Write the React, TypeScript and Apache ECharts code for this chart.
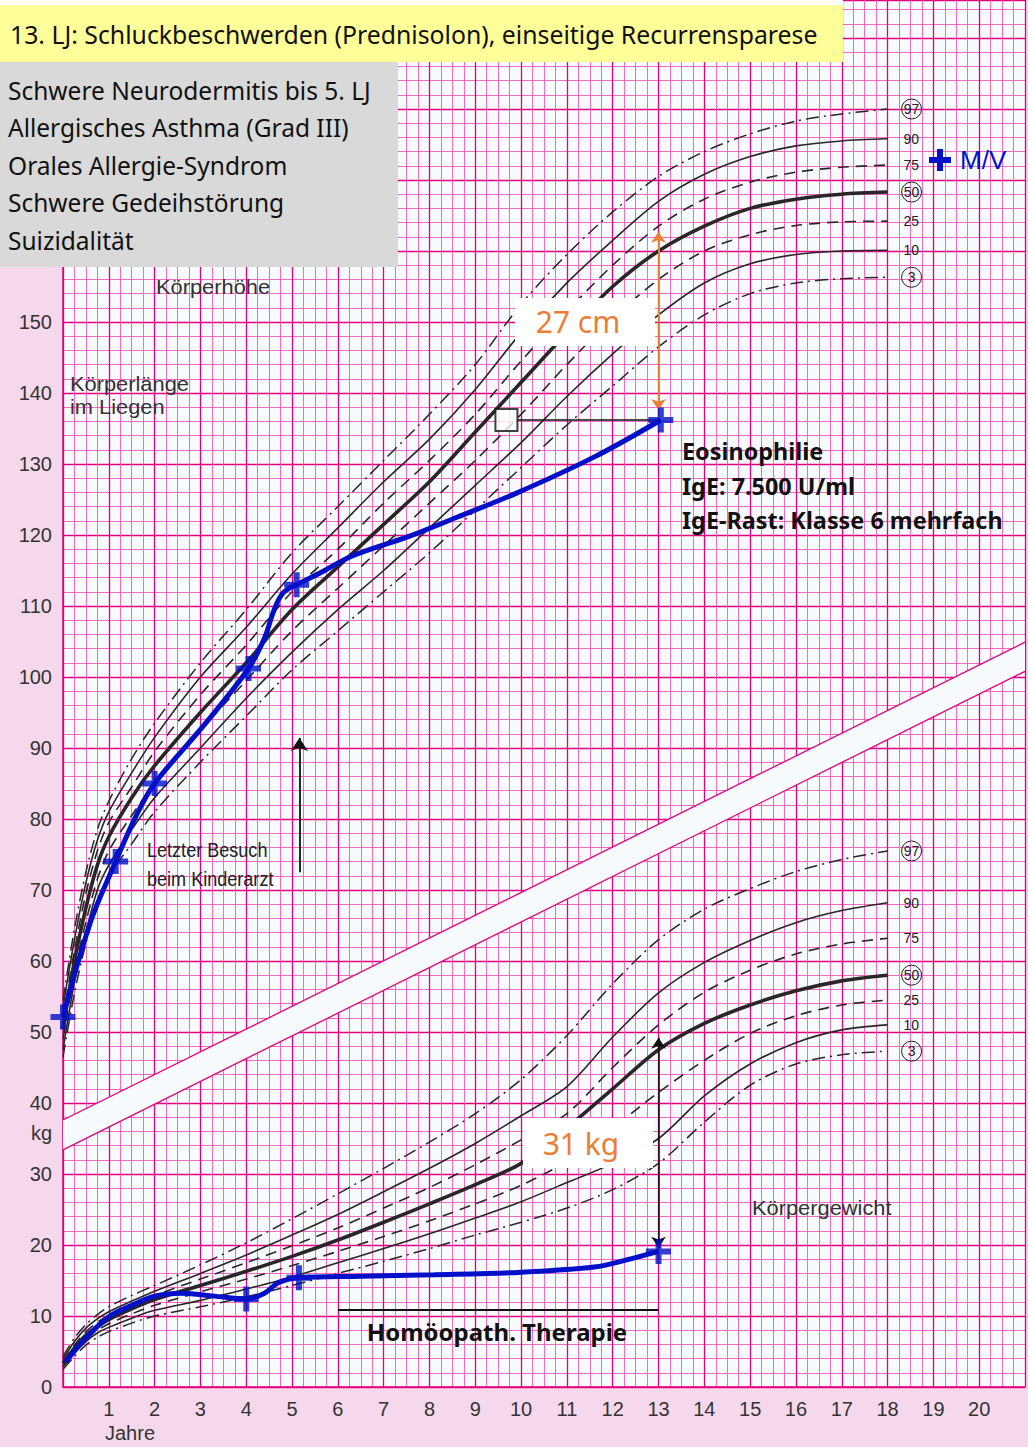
import React, { useEffect, useRef } from 'react';
import * as echarts from 'echarts';

// ---------- data ----------
const AGES = [0, 0.25, 0.5, 0.75, 1, 1.5, 2, 3, 4, 5, 6, 7, 8, 9, 10, 11, 12, 13, 14, 15, 16, 17, 18];

const H_P97 = [54.5, 64.5, 72.5, 78.5, 82.5, 88.5, 93.5, 102, 109.5, 117.5, 124, 130.5, 137, 144, 152.5, 159.5, 165.5, 170.5, 174, 176.5, 178.3, 179.3, 180];
const H_P90 = [53.5, 63, 71, 77, 81, 86.5, 91.5, 100, 107, 114.5, 121, 127.5, 133.5, 140.5, 148.5, 155.5, 161.5, 167, 170.8, 173.3, 174.8, 175.5, 175.8];
const H_P75 = [52, 61.5, 69.5, 75.5, 79.5, 84.5, 89.5, 97.5, 104.5, 112, 118, 124.5, 130.5, 137, 144.5, 151.5, 158, 163.5, 167.3, 169.7, 171.1, 171.8, 172.1];
const H_P50 = [50.5, 60, 67.5, 73.5, 77.5, 83, 87.5, 95, 102, 109.5, 115.5, 121.5, 127.5, 134.5, 141.5, 148.5, 155, 160, 163.5, 166, 167.3, 168, 168.3];
const H_P25 = [49, 58.5, 65.5, 71.5, 75.5, 80.5, 85, 92.5, 99.5, 106.5, 112.5, 118.5, 124.5, 130.5, 137, 144, 150.5, 156, 160, 162.3, 163.6, 164.1, 164.2];
const H_P10 = [47.5, 57, 64, 70, 73.5, 78.5, 83, 90, 97, 103.5, 109.5, 115, 121, 127, 133, 139.5, 145.5, 151, 155.5, 158.2, 159.5, 160, 160.1];
const H_P3 = [46.5, 55.5, 62.5, 68, 72, 76.5, 81, 88, 94.5, 101, 106.5, 112, 117.5, 123.5, 129.5, 135.5, 141, 146.5, 151, 154, 155.5, 156.1, 156.3];

const W_P97 = [4.3, 6.9, 8.8, 10.2, 11.3, 12.9, 14.3, 17.2, 20.3, 23.7, 27.2, 30.8, 34.5, 38.5, 43.3, 49.5, 56.8, 63, 67.3, 70.2, 72.6, 74.3, 75.5];
const W_P90 = [3.9, 6.4, 8.3, 9.6, 10.6, 12.1, 13.5, 16.0, 18.6, 21.4, 24.3, 27.5, 30.8, 34.3, 38.2, 42.3, 49.3, 55.5, 59.8, 62.9, 65.4, 67.1, 68.2];
const W_P75 = [3.6, 5.9, 7.8, 9.1, 10.1, 11.5, 12.9, 15.2, 17.5, 19.9, 22.4, 25.2, 28.1, 31.3, 34.8, 38.5, 45, 51, 55.6, 58.7, 61, 62.4, 63.2];
const W_P50 = [3.3, 5.5, 7.3, 8.5, 9.5, 11, 12.3, 14.3, 16.3, 18.4, 20.7, 23.2, 25.8, 28.5, 31.5, 36.5, 42, 47.5, 51.2, 53.8, 55.8, 57.2, 58];
const W_P25 = [3.0, 5.1, 6.8, 8.0, 8.9, 10.3, 11.5, 13.4, 15.2, 17.1, 19.1, 21.2, 23.4, 25.8, 28.4, 31.8, 36.5, 41.5, 46, 49.8, 52.3, 53.8, 54.5];
const W_P10 = [2.8, 4.8, 6.4, 7.6, 8.4, 9.7, 10.8, 12.2, 13.8, 15.5, 17.5, 19.5, 21.6, 23.8, 26.1, 28.8, 31.5, 35, 41, 45.5, 48.5, 50.3, 51];
const W_P3 = [2.5, 4.3, 5.9, 7.0, 7.8, 9.0, 10.0, 11.3, 12.7, 14.3, 16.0, 17.7, 19.5, 21.4, 23.2, 25.2, 27.8, 31.5, 37.3, 42.5, 45.5, 46.8, 47.3];

const PERCENTILE_NAMES = ['97', '90', '75', '50', '25', '10', '3'];
const HEIGHT_CURVES = [H_P97, H_P90, H_P75, H_P50, H_P25, H_P10, H_P3];
const WEIGHT_CURVES = [W_P97, W_P90, W_P75, W_P50, W_P25, W_P10, W_P3];

const PATIENT_HEIGHT_PATH = [[0, 52.1], [0.6, 65.5], [1.15, 74], [1.6, 80.5], [2.0, 85], [3.05, 93], [4.05, 101.2], [4.4, 105.5], [4.6, 109.3], [4.8, 111.8], [5.1, 113], [5.6, 114.6], [6.3, 117], [7.55, 119.8], [8.6, 122.5], [9.9, 125.9], [11.6, 131], [13.05, 136.2]];
const PATIENT_HEIGHT_VISITS = [[0, 52.1], [1.15, 74], [2.0, 85], [4.05, 101.2], [5.1, 113], [13.05, 136.2]];
const PATIENT_WEIGHT_PATH = [[0.05, 3.5], [0.5, 6.9], [1.0, 9.9], [1.5, 11.5], [2.0, 12.8], [2.6, 13.2], [3.3, 12.8], [4.0, 12.4], [4.4, 13.2], [4.7, 14.7], [5.15, 15.4], [6.5, 15.6], [8.1, 15.8], [9.8, 16.1], [11.6, 16.9], [12.3, 17.9], [13.0, 19.1]];
const PATIENT_WEIGHT_VISITS = [[4.0, 12.4], [5.15, 15.4], [13.0, 19.1]];

const HEIGHT_AGE_MARK = [[9.68, 136.2]];
const BAND_UPPER = [[0, 37.6], [21, 104.9]];
const BAND_LOWER = [[0, 33.4], [21, 100.8]];

const X_LABELS = [1, 2, 3, 4, 5, 6, 7, 8, 9, 10, 11, 12, 13, 14, 15, 16, 17, 18, 19, 20];
const Y_LABELS = [0, 10, 20, 30, 40, 50, 60, 70, 80, 90, 100, 110, 120, 130, 140, 150];
const Y_MAX = 195.35;

const TITLE = '13. LJ: Schluckbeschwerden (Prednisolon), einseitige Recurrensparese';
const DIAGNOSES = ['Schwere Neurodermitis bis 5. LJ', 'Allergisches Asthma (Grad III)', 'Orales Allergie-Syndrom', 'Schwere Gedeihstörung', 'Suizidalität'];
const LAB = ['Eosinophilie', 'IgE: 7.500 U/ml', 'IgE-Rast: Klasse 6 mehrfach'];

// ---------- styles ----------
const BLUE = '#0010c8';
const ORANGE = '#ed7d31';
const CURVE = '#2a2526';
const MAJOR = '#e4007c';
const MINOR = '#f15ab6';
const SANS = 'Liberation Sans, Arial, sans-serif';
const CAL = 'Noto Sans, Open Sans, sans-serif';
const CROSS = 'path://M3.8,0H6.2V3.8H10V6.2H6.2V10H3.8V6.2H0V3.8H3.8Z';

const circled = ['97', '50', '3'];

function lineStyleFor(name: string) {
  if (name === '50') return { color: CURVE, width: 3.6, type: 'solid' as any };
  if (name === '90' || name === '10') return { color: CURVE, width: 1.6, type: 'solid' as any };
  if (name === '75' || name === '25') return { color: CURVE, width: 1.6, type: [11, 7] as any };
  return { color: CURVE, width: 1.5, type: [13, 5, 2, 5] as any };
}

function percentileSeries(curves: number[][], prefix: string) {
  return curves.map((vals, i) => {
    const name = PERCENTILE_NAMES[i];
    const isCircled = circled.includes(name);
    return {
      name: prefix + name,
      type: 'line',
      data: AGES.map((a, j) => [a, vals[j]]),
      smooth: 0.3,
      showSymbol: false,
      symbol: 'none',
      z: 3,
      lineStyle: lineStyleFor(name),
      endLabel: {
        show: true,
        distance: isCircled ? 14 : 16,
        formatter: () => (isCircled ? '{c|' + name + '}' : '{n|' + name + '}'),
        rich: {
          c: {
            fontSize: 14, fontFamily: SANS, color: '#222', width: 20, height: 20, lineHeight: 20,
            align: 'center', borderColor: '#222', borderWidth: 1, borderRadius: 11,
          },
          n: { fontSize: 14, fontFamily: SANS, color: '#222' },
        },
      },
    };
  });
}

function txt(text: string, x: number, y: number, size: number, opts: any = {}) {
  return {
    type: 'text', x, y, z: 100, scaleX: opts.scaleX || 1,
    style: {
      text, fontSize: size, fontFamily: opts.family || CAL, fontWeight: opts.weight || 'normal',
      fill: opts.color || '#111', align: opts.align || 'left', verticalAlign: 'middle',
    },
  };
}

export default function App() {
  const ref = useRef<HTMLDivElement>(null);
  useEffect(() => {
    if (!ref.current) return;
    const chart = echarts.init(ref.current, null, { renderer: 'svg' });
    const option: any = {
      animation: false,
      backgroundColor: '#f6d8ec',
      grid: { left: 63, top: 0, width: 965, height: 1387, show: true, backgroundColor: '#f8fbfe', borderWidth: 0 },
      xAxis: {
        type: 'value', min: 0, max: 21, interval: 1,
        axisLine: { show: true, onZero: false, lineStyle: { color: MAJOR, width: 1.5 } },
        axisTick: { show: false },
        axisLabel: {
          fontSize: 20, color: '#333', fontFamily: SANS, margin: 12,
          formatter: (v: number) => (X_LABELS.includes(v) ? String(v) : ''),
        },
        splitLine: { show: true, lineStyle: { color: MAJOR, width: 1.3 } },
        minorTick: { show: false, splitNumber: 4 },
        minorSplitLine: { show: true, lineStyle: { color: MINOR, width: 0.9 } },
      },
      yAxis: {
        type: 'value', min: 0, max: Y_MAX, interval: 10,
        axisLine: { show: true, onZero: false, lineStyle: { color: MAJOR, width: 1.5 } },
        axisTick: { show: false },
        axisLabel: {
          fontSize: 20, color: '#333', fontFamily: SANS, margin: 11,
          formatter: (v: number) => (Y_LABELS.includes(v) ? String(v) : ''),
        },
        splitLine: { show: true, lineStyle: { color: MAJOR, width: 1.3 } },
        minorTick: { show: false, splitNumber: 5 },
        minorSplitLine: { show: true, lineStyle: { color: MINOR, width: 0.9 } },
      },
      series: [
        {
          type: 'custom', z: 1, silent: true, data: [[0, 0]],
          renderItem: (_p: any, api: any) => {
            const up = BAND_UPPER.map((p) => api.coord(p));
            const lo = BAND_LOWER.map((p) => api.coord(p));
            return {
              type: 'group',
              children: [
                { type: 'polygon', shape: { points: [up[0], up[1], lo[1], lo[0]] }, style: { fill: '#f7fbfe' } },
                { type: 'line', shape: { x1: up[0][0], y1: up[0][1], x2: up[1][0], y2: up[1][1] }, style: { stroke: MAJOR, lineWidth: 1.3 } },
                { type: 'line', shape: { x1: lo[0][0], y1: lo[0][1], x2: lo[1][0], y2: lo[1][1] }, style: { stroke: MAJOR, lineWidth: 1.3 } },
              ],
            };
          },
        },
        ...percentileSeries(HEIGHT_CURVES, 'H'),
        ...percentileSeries(WEIGHT_CURVES, 'W'),
        {
          name: 'annotations', type: 'line', data: [[13, 136.2]], showSymbol: false, symbol: 'none',
          lineStyle: { width: 0 }, z: 4,
          markLine: {
            silent: true, animation: false, label: { show: false }, symbol: ['none', 'none'],
            data: [
              [
                { coord: [13, 162.7], symbol: 'arrow', symbolSize: 11, lineStyle: { color: ORANGE, width: 2, type: 'solid' } },
                { coord: [13, 137.6], symbol: 'arrow', symbolSize: 11 },
              ],
              [
                { coord: [13, 49.2], symbol: 'arrow', symbolSize: 11, lineStyle: { color: '#111', width: 1.6, type: 'solid' } },
                { coord: [13, 19.6], symbol: 'arrow', symbolSize: 11 },
              ],
              [
                { coord: [5.16, 72.5], symbol: 'none', lineStyle: { color: '#111', width: 1.8, type: 'solid' } },
                { coord: [5.16, 91.4], symbol: 'arrow', symbolSize: 13 },
              ],
              [
                { coord: [9.9, 136.2], symbol: 'none', lineStyle: { color: '#111', width: 1.6, type: 'solid' } },
                { coord: [13.0, 136.2], symbol: 'none' },
              ],
              [
                { coord: [6.0, 10.85], symbol: 'none', lineStyle: { color: '#111', width: 2, type: 'solid' } },
                { coord: [13.0, 10.85], symbol: 'none' },
              ],
            ],
          },
        },
        {
          name: 'heightAge', type: 'scatter', data: HEIGHT_AGE_MARK, symbol: 'rect', symbolSize: 22, z: 6,
          itemStyle: { color: '#ffffff', borderColor: '#111', borderWidth: 2 },
        },
        {
          name: 'heightPatient', type: 'line', data: PATIENT_HEIGHT_PATH, smooth: 0.35,
          showSymbol: false, symbol: 'none', z: 7, lineStyle: { color: BLUE, width: 5 },
        },
        {
          name: 'weightPatient', type: 'line', data: PATIENT_WEIGHT_PATH, smooth: 0.35,
          showSymbol: false, symbol: 'none', z: 7, lineStyle: { color: BLUE, width: 5 },
        },
        {
          name: 'heightVisits', type: 'scatter', data: PATIENT_HEIGHT_VISITS, symbol: CROSS, symbolSize: 25, z: 8,
          itemStyle: { color: BLUE },
        },
        {
          name: 'weightVisits', type: 'scatter', data: PATIENT_WEIGHT_VISITS, symbol: CROSS, symbolSize: 25, z: 8,
          itemStyle: { color: BLUE },
        },
      ],
      graphic: [
        { type: 'rect', z: 100, shape: { x: 0, y: 0, width: 843, height: 5 }, style: { fill: '#ffffff' } },
        { type: 'rect', z: 100, shape: { x: 0, y: 5, width: 843, height: 57 }, style: { fill: '#ffff99' } },
        txt(TITLE, 10, 34, 24.8),
        { type: 'rect', z: 100, shape: { x: 0, y: 62, width: 398, height: 205 }, style: { fill: '#d9d9d9' } },
        ...DIAGNOSES.map((d, i) => txt(d, 8, 90 + i * 37.5, 24.5)),
        txt('Körperhöhe', 156, 287, 21, { family: SANS, color: '#333', scaleX: 1.04 }),
        txt('Körperlänge', 70, 384, 19.5, { family: SANS, color: '#333', scaleX: 1.12 }),
        txt('im Liegen', 70, 407, 19.5, { family: SANS, color: '#333', scaleX: 1.12 }),
        { type: 'rect', z: 100, shape: { x: 929, y: 157, width: 22, height: 6 }, style: { fill: BLUE } },
        { type: 'rect', z: 100, shape: { x: 937, y: 149, width: 6, height: 22 }, style: { fill: BLUE } },
        txt('M/V', 960, 160, 26, { family: SANS, color: BLUE }),
        { type: 'rect', z: 100, shape: { x: 515, y: 298, width: 140, height: 48 }, style: { fill: '#ffffff' } },
        txt('27 cm', 578, 321, 30, { color: ORANGE, align: 'center' }),
        ...LAB.map((t, i) => txt(t, 682, 451 + i * 34.5, 23.4, { weight: 'bold' })),
        txt('Letzter Besuch', 147, 849, 21, { family: SANS, color: '#222', scaleX: 0.86 }),
        txt('beim Kinderarzt', 147, 878, 21, { family: SANS, color: '#222', scaleX: 0.86 }),
        { type: 'rect', z: 100, shape: { x: 523, y: 1118, width: 130, height: 50 }, style: { fill: '#ffffff' } },
        txt('31 kg', 581, 1143, 30, { color: ORANGE, align: 'center' }),
        txt('Körpergewicht', 752, 1208, 21, { family: SANS, color: '#333', scaleX: 1.04 }),
        txt('Homöopath. Therapie', 497, 1331, 24, { weight: 'bold', align: 'center' }),
        txt('kg', 52, 1133, 20, { family: SANS, color: '#333', align: 'right' }),
        txt('Jahre', 105, 1433, 20, { family: SANS, color: '#333' }),
      ],
    };
    chart.setOption(option);
    return () => chart.dispose();
  }, []);
  return <div ref={ref} style={{ position: 'absolute', left: 0, top: 0, width: 1028, height: 1447 }} />;
}
